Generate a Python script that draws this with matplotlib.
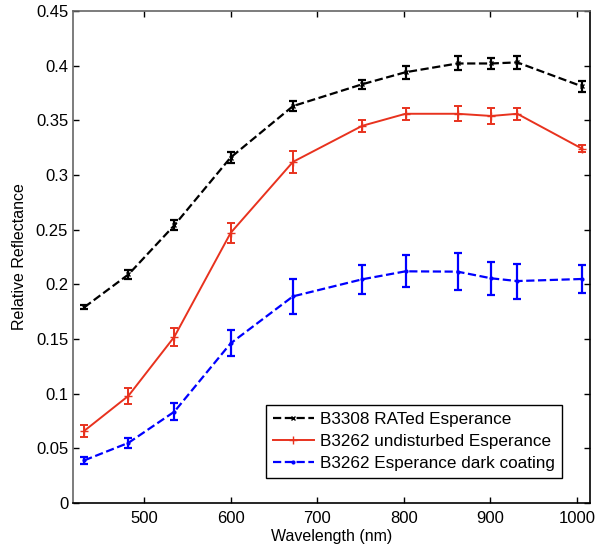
import numpy as np
import matplotlib
matplotlib.use('Agg')
import matplotlib.pyplot as plt
from matplotlib.ticker import FuncFormatter
from matplotlib.lines import Line2D

plt.rcParams['font.family'] = ['Liberation Sans', 'DejaVu Sans']

# band centres (nm)
wl = [431, 482, 535, 600, 672, 752, 802, 862, 901, 931, 1006]

# B3308 RATed Esperance
rated = [0.179, 0.209, 0.254, 0.316, 0.363, 0.383, 0.394, 0.402, 0.402, 0.403, 0.381]
rated_err = [0.002, 0.0044, 0.0044, 0.005, 0.0046, 0.004, 0.0058, 0.0064, 0.005, 0.0062, 0.0047]

# B3262 undisturbed Esperance
undist = [0.066, 0.098, 0.152, 0.247, 0.312, 0.345, 0.356, 0.356, 0.354, 0.356, 0.324]
undist_err = [0.0057, 0.0072, 0.0081, 0.009, 0.0099, 0.0056, 0.0055, 0.0069, 0.0069, 0.0053, 0.003]

# B3262 Esperance dark coating
dark = [0.039, 0.055, 0.0835, 0.146, 0.189, 0.2046, 0.2119, 0.2116, 0.2055, 0.203, 0.2049]
dark_err = [0.0032, 0.0049, 0.0076, 0.0119, 0.016, 0.0134, 0.0145, 0.0167, 0.0152, 0.016, 0.0125]

labels = ['B3308 RATed Esperance', 'B3262 undisturbed Esperance', 'B3262 Esperance dark coating']
red = '#e8321e'
styles = [dict(ls='--', color='k', marker='x', ms=3, lw=1.6),
          dict(ls='-', color=red, marker='+', ms=6, lw=1.4),
          dict(ls='--', color='#0000ff', marker='.', ms=4, lw=1.6)]

fig = plt.figure(figsize=(5.96, 5.54), dpi=100)
ax = fig.add_axes([73/596, 51/554, 517/596, 492/554])

for y, e, st in zip([rated, undist, dark], [rated_err, undist_err, dark_err], styles):
    ax.errorbar(wl, y, yerr=e, fmt=st['ls'], color=st['color'], marker=st['marker'],
                ms=st['ms'], lw=st['lw'], capsize=3.2, elinewidth=st['lw'],
                capthick=st['lw'])

ax.set_xlim(418, 1015)
ax.set_ylim(0, 0.45)
ax.set_xticks([500, 600, 700, 800, 900, 1000])
ax.set_yticks(np.arange(0, 0.451, 0.05))
ax.yaxis.set_major_formatter(FuncFormatter(lambda v, p: ('%.2f' % v).rstrip('0').rstrip('.') if v else '0'))
ax.tick_params(direction='in', top=True, right=True, labelsize=12, length=4, width=1)
ax.tick_params(axis='x', pad=6)

ax.set_xlabel('Wavelength (nm)', fontsize=11.5, labelpad=2)
ax.set_ylabel('Relative Reflectance', fontsize=11.5, labelpad=6)

for s in ['left', 'top']:
    ax.spines[s].set_color('#666666')
for s in ax.spines.values():
    s.set_linewidth(1.2)

handles = [Line2D([], [], **st) for st in styles]
leg = ax.legend(handles, labels, loc='lower right', bbox_to_anchor=(0.946, 0.051),
                fontsize=12.3, fancybox=False, edgecolor='k', framealpha=1,
                handlelength=2.4, borderpad=0.4, labelspacing=0.42,
                handletextpad=0.4, borderaxespad=0)
leg.get_frame().set_linewidth(1.0)

fig.savefig('out.png', dpi=100)
